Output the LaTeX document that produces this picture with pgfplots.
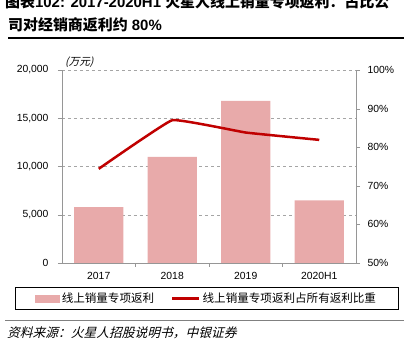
\documentclass[border=0pt]{standalone}
\usepackage{pgfplots}
\pgfplotsset{compat=1.18}
\usepackage{fontspec}
\setmainfont{Liberation Sans}
\newfontfamily\cjk{Noto Sans CJK SC}
\newfontfamily\cjkit[FakeSlant=0.25]{Noto Sans CJK SC}
\definecolor{barcol}{RGB}{232,170,170}
\definecolor{lincol}{RGB}{192,0,0}
\definecolor{axgray}{RGB}{150,150,150}
\definecolor{gridgray}{RGB}{165,165,165}
\begin{document}
\begin{tikzpicture}[x=1bp,y=1bp]
\begin{axis}[name=ax1, at={(62bp,93bp)}, anchor=south west, scale only axis, width=294bp, height=193bp,
  xmin=-0.5, xmax=3.5, ymin=0, ymax=20000,
  axis x line*=bottom, axis y line*=left,
  xtick={0.5,1.5,2.5}, xticklabels={},
  extra x ticks={0,1,2,3}, extra x tick labels={2017,2018,2019,2020H1},
  extra x tick style={major tick length=0pt, grid=none},
  xticklabel style={yshift=-6bp},
  yticklabel style={xshift=-6bp},
  ytick={0,5000,10000,15000,20000}, ymajorgrids, grid style={dashed, gridgray},
  tick align=outside, major tick length=4bp, tick style={axgray},
  axis line style={axgray},
  scaled y ticks=false,
  /pgf/number format/assume math mode=true,
  /pgf/number format/1000 sep={,},
  ticklabel style={font=\fontsize{10.4}{12}\selectfont},
  ybar, bar width=49bp,
]
\addplot[fill=barcol, draw=none] coordinates {(0,5800) (1,11000) (2,16800) (3,6500)};
\end{axis}

\begin{axis}[at={(ax1.south west)}, anchor=south west, scale only axis, width=294bp, height=193bp,
  xmin=-0.5, xmax=3.5, ymin=50, ymax=100,
  axis y line*=right, axis x line=none,
  ytick={50,60,70,80,90,100},
  yticklabel={\pgfmathprintnumber{\tick}\%},
  yticklabel style={xshift=4bp},
  tick align=outside, major tick length=4bp, tick style={axgray},
  axis line style={axgray},
  /pgf/number format/assume math mode=true,
  ticklabel style={font=\fontsize{10.4}{12}\selectfont},
  legend columns=2,
  legend style={at={(0.4915,-0.1244)}, anchor=north, draw=black, line width=0.8bp,
    font=\cjk\fontsize{11.6}{13}\selectfont, inner xsep=20bp, inner ysep=3.5bp,
    /tikz/every even column/.append style={column sep=15bp}},
]
\addlegendimage{legend image code/.code={\fill[barcol] (0bp,-3.5bp) rectangle (24bp,3.5bp);}}
\addlegendentry{线上销量专项返利}
\addplot[lincol, line width=2.5bp, smooth, tension=0.15,
  legend image code/.code={\draw[lincol, line width=2.5bp] (0bp,0bp) -- (27bp,0bp);}]
  coordinates {(0,74.4) (1,87.0) (2,83.8) (3,81.9)};
\addlegendentry{线上销量专项返利占所有返利比重}
\end{axis}

\node[anchor=base west, inner sep=0] at (5,348.2) {\fontsize{15}{18}\selectfont\bfseries{\cjk 图表}102: 2017-2020H1 {\cjk 火星人线上销量专项返利：占比公}};
\node[anchor=base west, inner sep=0] at (8,325.5) {\fontsize{15}{18}\selectfont\bfseries{\cjk 司对经销商返利约} 80\%};
\draw[line width=1.3bp] (8,318) -- (404,318);
\node[anchor=west, inner sep=0] at (65,294) {\cjkit\fontsize{10.6}{12}\selectfont (万元)};
\draw[color=gray, line width=1bp] (5,35) -- (404,35);
\node[anchor=west, inner sep=0] at (7,23) {\cjkit\fontsize{12.8}{14}\selectfont 资料来源：火星人招股说明书，中银证券};
\pgfresetboundingbox
\path[use as bounding box] (0,0) rectangle (412,356);
\end{tikzpicture}
\end{document}
